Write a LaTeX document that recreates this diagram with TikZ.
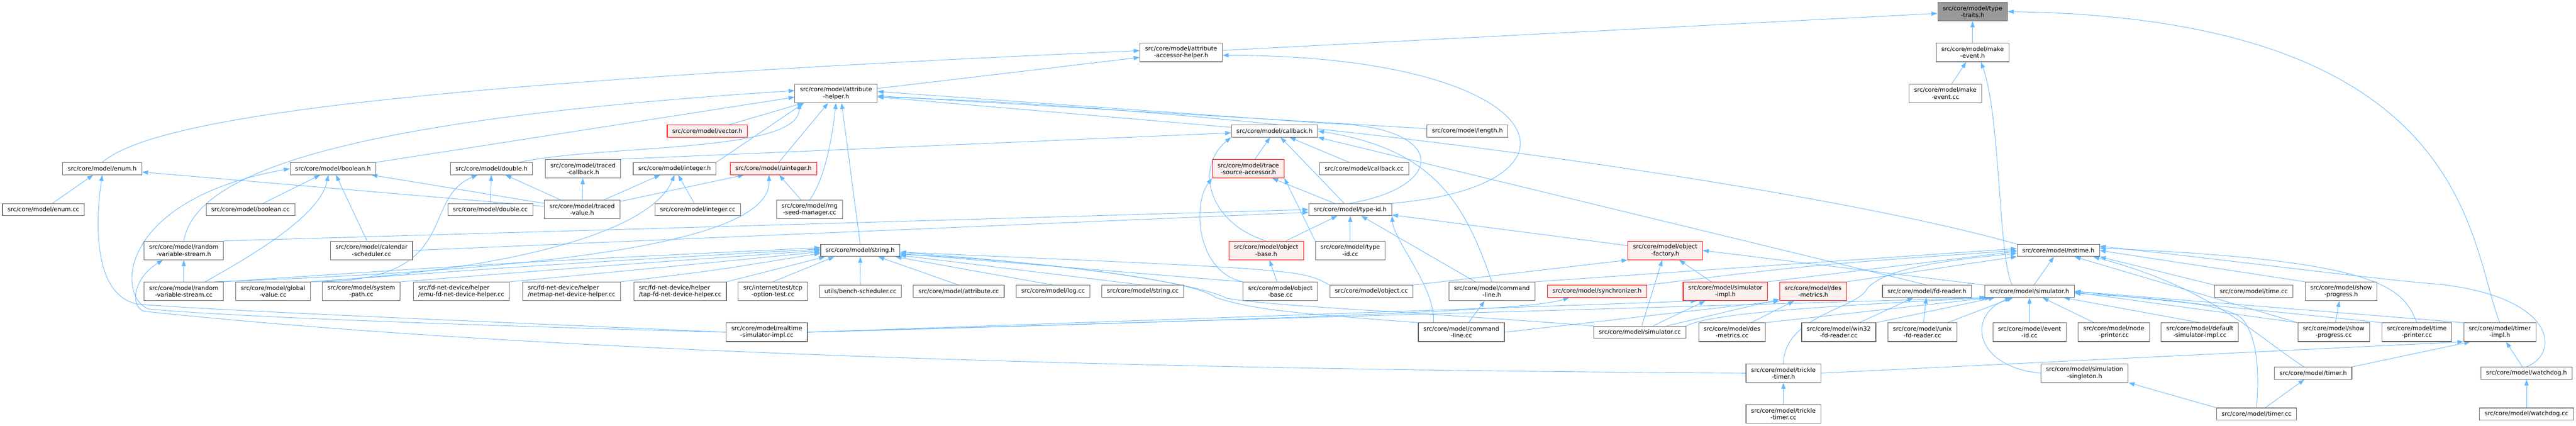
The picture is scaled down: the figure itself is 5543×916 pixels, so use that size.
\documentclass[tikz,border=0pt]{standalone}
\usepackage{fontspec}
\setmainfont{DejaVu Sans}
\usetikzlibrary{arrows.meta,backgrounds}
\definecolor{edgeblue}{HTML}{63B8FF}
\definecolor{boxgray}{HTML}{666666}
\definecolor{rootgray}{HTML}{999999}
\definecolor{truncfill}{HTML}{FFF0F0}
\definecolor{truncred}{HTML}{FF0000}

\begin{document}
\begin{tikzpicture}[x=1pt, y=-1pt,
    filebox/.style={draw=boxgray, fill=white, line width=1.2pt, inner xsep=11pt, inner ysep=1pt,
      minimum height=26pt, align=center, font=\fontsize{12.8pt}{14.7pt}\selectfont},
    twoline/.style={minimum height=40pt},
    trunc/.style={draw=truncred, fill=truncfill},
    rootbox/.style={fill=rootgray},
    incl/.style={draw=edgeblue, line width=1pt, -{Triangle[length=13pt,width=9pt]}}]%
    \useasboundingbox (0,0) rectangle (5543,916);

    \node[filebox,twoline,rootbox] (typetraits) at (4244.5,25) {src/core/model/type\\-traits.h};
    \node[filebox,twoline] (aah) at (2541.5,113) {src/core/model/attribute\\-accessor-helper.h};
    \node[filebox,twoline] (makeeventh) at (4244.5,113) {src/core/model/make\\-event.h};
    \node[filebox,twoline] (attrh) at (1799,201) {src/core/model/attribute\\-helper.h};
    \node[filebox,twoline] (makeeventcc) at (4186,201) {src/core/model/make\\-event.cc};
    \node[filebox,trunc] (vectorh) at (1522,282) {src/core/model/vector.h};
    \node[filebox] (callbackh) at (2742.5,282) {src/core/model/callback.h};
    \node[filebox] (lengthh) at (3157.5,282) {src/core/model/length.h};
    \node[filebox] (enumh) at (220,363) {src/core/model/enum.h};
    \node[filebox] (booleanh) at (716.5,363) {src/core/model/boolean.h};
    \node[filebox] (doubleh) at (1057.5,363) {src/core/model/double.h};
    \node[filebox,twoline] (tcbh) at (1254.5,363) {src/core/model/traced\\-callback.h};
    \node[filebox] (integerh) at (1451.5,363) {src/core/model/integer.h};
    \node[filebox,trunc] (uintegerh) at (1664.5,363) {src/core/model/uinteger.h};
    \node[filebox,twoline,trunc] (tsah) at (2686,363) {src/core/model/trace\\-source-accessor.h};
    \node[filebox] (callbackcc) at (2935.5,363) {src/core/model/callback.cc};
    \node[filebox] (enumcc) at (93.5,451) {src/core/model/enum.cc};
    \node[filebox] (booleancc) at (539,451) {src/core/model/boolean.cc};
    \node[filebox] (doublecc) at (1055,451) {src/core/model/double.cc};
    \node[filebox,twoline] (tvh) at (1252.5,451) {src/core/model/traced\\-value.h};
    \node[filebox] (integercc) at (1501.5,451) {src/core/model/integer.cc};
    \node[filebox,twoline] (rngcc) at (1742,451) {src/core/model/rng\\-seed-manager.cc};
    \node[filebox] (typeidh) at (2905.5,451) {src/core/model/type-id.h};
    \node[filebox,twoline] (rvsh) at (395.5,539) {src/core/model/random\\-variable-stream.h};
    \node[filebox,twoline] (calendarcc) at (799.5,539) {src/core/model/calendar\\-scheduler.cc};
    \node[filebox] (stringh) at (1851,539) {src/core/model/string.h};
    \node[filebox,twoline,trunc] (objbaseh) at (2724.5,539) {src/core/model/object\\-base.h};
    \node[filebox,twoline] (typeidcc) at (2905.5,539) {src/core/model/type\\-id.cc};
    \node[filebox,twoline,trunc] (objfacth) at (3583,539) {src/core/model/object\\-factory.h};
    \node[filebox] (nstimeh) at (4429,539) {src/core/model/nstime.h};
    \node[filebox,twoline] (rvscc) at (395.5,627) {src/core/model/random\\-variable-stream.cc};
    \node[filebox,twoline] (gvcc) at (587.5,627) {src/core/model/global\\-value.cc};
    \node[filebox,twoline] (syspathcc) at (777.5,627) {src/core/model/system\\-path.cc};
    \node[filebox,twoline,align=left] (emucc) at (992.5,627) {src/fd-net-device/helper\\/emu-fd-net-device-helper.cc};
    \node[filebox,twoline,align=left] (netmapcc) at (1230,627) {src/fd-net-device/helper\\/netmap-net-device-helper.cc};
    \node[filebox,twoline,align=left] (tapcc) at (1463.5,627) {src/fd-net-device/helper\\/tap-fd-net-device-helper.cc};
    \node[filebox,twoline] (tcpcc) at (1663,627) {src/internet/test/tcp\\-option-test.cc};
    \node[filebox] (benchcc) at (1851.5,627) {utils/bench-scheduler.cc};
    \node[filebox] (attributecc) at (2063,627) {src/core/model/attribute.cc};
    \node[filebox] (logcc) at (2266,627) {src/core/model/log.cc};
    \node[filebox] (stringcc) at (2459,627) {src/core/model/string.cc};
    \node[filebox,twoline] (objbasecc) at (2755,627) {src/core/model/object\\-base.cc};
    \node[filebox] (objectcc) at (2951,627) {src/core/model/object.cc};
    \node[filebox,twoline] (cmdlineh) at (3210,627) {src/core/model/command\\-line.h};
    \node[filebox,trunc] (synch) at (3436.5,627) {src/core/model/synchronizer.h};
    \node[filebox,twoline,trunc] (simimplh) at (3712.5,627) {src/core/model/simulator\\-impl.h};
    \node[filebox,twoline,trunc] (desmh) at (3901.5,627) {src/core/model/des\\-metrics.h};
    \node[filebox] (fdreaderh) at (4146.5,627) {src/core/model/fd-reader.h};
    \node[filebox] (simulatorh) at (4367,627) {src/core/model/simulator.h};
    \node[filebox] (timecc) at (4849.5,627) {src/core/model/time.cc};
    \node[filebox,twoline] (sph) at (5037.5,627) {src/core/model/show\\-progress.h};
    \node[filebox,twoline] (rtsimcc) at (1650,715) {src/core/model/realtime\\-simulator-impl.cc};
    \node[filebox,twoline] (cmdlinecc) at (3144.5,715) {src/core/model/command\\-line.cc};
    \node[filebox] (simcc) at (3528.5,715) {src/core/model/simulator.cc};
    \node[filebox,twoline] (desmcc) at (3727,715) {src/core/model/des\\-metrics.cc};
    \node[filebox,twoline] (win32cc) at (3956.5,715) {src/core/model/win32\\-fd-reader.cc};
    \node[filebox,twoline] (unixcc) at (4136.5,715) {src/core/model/unix\\-fd-reader.cc};
    \node[filebox,twoline] (eventidcc) at (4367,715) {src/core/model/event\\-id.cc};
    \node[filebox,twoline] (nodeprintercc) at (4548.5,715) {src/core/model/node\\-printer.cc};
    \node[filebox,twoline] (defsimcc) at (4733.5,715) {src/core/model/default\\-simulator-impl.cc};
    \node[filebox,twoline] (spcc) at (5021.5,715) {src/core/model/show\\-progress.cc};
    \node[filebox,twoline] (tpcc) at (5200.5,715) {src/core/model/time\\-printer.cc};
    \node[filebox,twoline] (timerimplh) at (5379,715) {src/core/model/timer\\-impl.h};
    \node[filebox,twoline] (trickleh) at (3837.5,803) {src/core/model/trickle\\-timer.h};
    \node[filebox,twoline] (simsingh) at (4485.5,803) {src/core/model/simulation\\-singleton.h};
    \node[filebox] (timerh) at (4977.5,803) {src/core/model/timer.h};
    \node[filebox] (watchdogh) at (5436.5,803) {src/core/model/watchdog.h};
    \node[filebox,twoline] (tricklecc) at (3837.5,891) {src/core/model/trickle\\-timer.cc};
    \node[filebox] (timercc) at (4855.5,891) {src/core/model/timer.cc};
    \node[filebox] (watchdogcc) at (5436.5,891) {src/core/model/watchdog.cc};

    \begin{pgfonlayer}{background}
    \fill[white] (0,0) rectangle (5543,916);
    \draw[incl] (aah) -- (typetraits);
    \draw[incl] (makeeventh) -- (typetraits);
    \draw[incl] (timerimplh.north) .. controls (5310,520) and (5320,40) .. (typetraits.east);
    \draw[incl] (attrh) -- (aah);
    \draw[incl] (enumh.north) .. controls (330,255) and (850,180) .. ([yshift=4pt]aah.west);
    \draw[incl] (typeidh.north east) .. controls (3450,400) and (3350,120) .. ([yshift=-6pt]aah.east);
    \draw[incl] (makeeventcc) -- (makeeventh);
    \draw[incl] ([xshift=-37pt]simulatorh.north) .. controls (4300,560) and (4305,250) .. ([xshift=18pt]makeeventh.south);
    \draw[incl] (booleanh.north east) -- ([yshift=-8pt]attrh.west);
    \draw[incl] (rvsh.north) .. controls (420,380) and (700,260) .. ([yshift=6pt]attrh.west);
    \draw[incl] (vectorh) -- (attrh);
    \draw[incl] ([xshift=-30pt]doubleh.north east) .. controls (1300,310) and (1720,330) .. ([xshift=10pt]attrh.south west);
    \draw[incl] (integerh.north east) -- ([xshift=20pt]attrh.south west);
    \draw[incl] (uintegerh) -- (attrh);
    \draw[incl] (rngcc.north) .. controls (1775,385) and (1790,300) .. (attrh.south);
    \draw[incl] (stringh.north) -- ([xshift=12pt]attrh.south);
    \draw[incl] (callbackh) -- (attrh);
    \draw[incl] (lengthh) -- (attrh);
    \draw[incl] (typeidh.north) .. controls (3120,400) and (3110,270) .. (2860,266) -- ([yshift=4pt]attrh.east);
    \draw[incl] (nstimeh.north west) .. controls (3900,400) and (2700,230) .. ([yshift=-8pt]attrh.east);
    \draw[incl] (enumcc) -- (enumh);
    \draw[incl] (tvh) -- (enumh);
    \draw[incl] (rtsimcc.west) .. controls (1000,690) and (500,670) .. (300,655) .. controls (200,640) and (205,480) .. (enumh.south);
    \draw[incl] (booleancc) -- (booleanh);
    \draw[incl] (calendarcc) -- (booleanh);
    \draw[incl] ([xshift=-40pt]rvscc.north east) .. controls (560,540) and (690,460) .. ([xshift=-10pt]booleanh.south);
    \draw[incl] (tvh) -- (booleanh);
    \draw[incl] (rtsimcc.west) .. controls (1000,700) and (500,682) .. (320,665) .. controls (250,640) and (250,430) .. (booleanh.west);
    \draw[incl] (doublecc) -- (doubleh);
    \draw[incl] (tvh) -- (doubleh);
    \draw[incl] (gvcc.north east) .. controls (1000,610) and (900,430) .. ([xshift=-30pt]doubleh.south);
    \draw[incl] (tvh) -- (tcbh);
    \draw[incl] (integercc) -- (integerh);
    \draw[incl] (tvh) -- (integerh);
    \draw[incl] (gvcc.north east) .. controls (1100,580) and (1400,500) .. (integerh.south);
    \draw[incl] (tvh) -- (uintegerh);
    \draw[incl] (rngcc) -- (uintegerh);
    \draw[incl] ([xshift=-20pt]rvscc.north east) .. controls (1200,580) and (1660,520) .. ([xshift=-10pt]uintegerh.south);
    \draw[incl] (rvscc.north east) .. controls (1100,565) .. ([yshift=6pt]stringh.west);
    \draw[incl] (gvcc.north east) .. controls (1200,568) .. ([yshift=3pt]stringh.west);
    \draw[incl] (syspathcc.north east) .. controls (1300,572) .. (stringh.west);
    \draw[incl] (emucc.north east) .. controls (1420,576) .. ([yshift=-3pt]stringh.west);
    \draw[incl] (netmapcc.north east) .. controls (1540,582) .. ([yshift=-6pt]stringh.west);
    \draw[incl] (tapcc.north east) -- ([xshift=10pt]stringh.south west);
    \draw[incl] (tcpcc.north) -- ([xshift=30pt]stringh.south west);
    \draw[incl] (benchcc) -- (stringh);
    \draw[incl] (attributecc.north) -- (stringh);
    \draw[incl] (logcc.north) -- (stringh);
    \draw[incl] (stringcc.north) -- (stringh);
    \draw[incl] (objbasecc.north west) -- (stringh);
    \draw[incl] (objectcc.north west) .. controls (2800,580) .. (stringh);
    \draw[incl] (cmdlinecc.north west) .. controls (2800,675) and (2700,668) .. (2615,640) .. controls (2570,605) and (2300,570) .. ([yshift=-4pt]stringh.east);
    \draw[incl] (simcc.north west) .. controls (3000,668) and (2750,660) .. (2640,642) .. controls (2585,612) and (2300,565) .. ([yshift=-8pt]stringh.east);
    \draw[incl] (tsah) -- (callbackh);
    \draw[incl] (typeidh) -- (callbackh);
    \draw[incl] (callbackcc) -- (callbackh);
    \draw[incl] (tcbh.north east) -- (callbackh);
    \draw[incl] (cmdlineh.north) .. controls (3150,430) and (3080,320) .. (callbackh.east);
    \draw[incl] (fdreaderh.north) -- (callbackh.south east);
    \draw[incl] (objbaseh.north) .. controls (2600,480) and (2570,360) .. (callbackh.south west);
    \draw[incl] (objbasecc.north west) .. controls (2575,585) and (2565,440) .. (tsah.south west);
    \draw[incl] (typeidh) -- (tsah);
    \draw[incl] (typeidcc.north west) -- (tsah.south east);
    \draw[incl] (objbaseh) -- (typeidh);
    \draw[incl] (typeidcc) -- (typeidh);
    \draw[incl] ([xshift=-60pt]cmdlinecc.north) .. controls (3090,620) and (3000,520) .. (typeidh.south east);
    \draw[incl] (cmdlineh) -- (typeidh);
    \draw[incl] (objfacth) -- (typeidh);
    \draw[incl] (rvsh.north east) -- (typeidh.west);
    \draw[incl] (calendarcc.east) -- ([yshift=-6pt]typeidh.west);
    \draw[incl] (objbasecc) -- (objbaseh);
    \draw[incl] (objectcc.north east) -- (objfacth.south west);
    \draw[incl] (simimplh) -- (objfacth);
    \draw[incl] (simcc) -- (objfacth);
    \draw[incl] (simulatorh.north west) -- (objfacth.east);
    \draw[incl] (cmdlineh.north east) -- ([yshift=4pt]nstimeh.west);
    \draw[incl] (synch.north east) .. controls (3900,570) .. (nstimeh.west);
    \draw[incl] (simimplh.north east) -- ([yshift=-2pt]nstimeh.west);
    \draw[incl] (desmh.north east) -- (nstimeh);
    \draw[incl] (simulatorh) -- (nstimeh);
    \draw[incl] (trickleh.north) .. controls (3840,680) and (3990,665) .. (4015,625) .. controls (4050,570) and (4250,555) .. ([yshift=-6pt]nstimeh.west);
    \draw[incl] (timecc.north west) -- (nstimeh.south east);
    \draw[incl] (sph.north west) -- (nstimeh.east);
    \draw[incl] (spcc.north west) -- ([xshift=35pt]nstimeh.south);
    \draw[incl] (tpcc.north) .. controls (5170,620) and (5130,560) .. ([yshift=5pt]nstimeh.east);
    \draw[incl] ([xshift=-20pt]timerh.north) .. controls (4850,720) and (4760,620) .. ([xshift=75pt]nstimeh.south);
    \draw[incl] (watchdogh.north) .. controls (5510,760) and (5500,640) .. (5250,612) .. controls (5100,600) and (4800,560) .. ([yshift=9pt]nstimeh.east);
    \draw[incl] (eventidcc) -- (simulatorh);
    \draw[incl] (nodeprintercc) -- (simulatorh);
    \draw[incl] (defsimcc.north) -- (simulatorh);
    \draw[incl] (unixcc) -- (simulatorh);
    \draw[incl] (win32cc.north east) -- ([xshift=22pt]simulatorh.south west);
    \draw[incl] (desmcc.north east) -- ([xshift=14pt]simulatorh.south west);
    \draw[incl] (simcc.north east) .. controls (3680,675) and (3900,660) .. ([xshift=8pt]simulatorh.south west);
    \draw[incl] (rtsimcc.east) -- ([xshift=2pt]simulatorh.south west);
    \draw[incl] (simsingh.west) .. controls (4250,790) and (4230,680) .. ([xshift=-40pt]simulatorh.south);
    \draw[incl] (timercc.north) .. controls (4865,760) and (4845,715) .. (4828,690) .. controls (4800,650) and (4600,640) .. ([yshift=-4pt]simulatorh.east);
    \draw[incl] (timerimplh.north west) -- (simulatorh.east);
    \draw[incl] (tpcc.north west) -- (simulatorh.east);
    \draw[incl] (spcc.north west) -- ([yshift=-2pt]simulatorh.east);
    \draw[incl] (win32cc) -- (fdreaderh);
    \draw[incl] (unixcc) -- (fdreaderh);
    \draw[incl] (desmcc) -- (desmh);
    \draw[incl] (simcc) -- (desmh);
    \draw[incl] (cmdlinecc.east) -- (desmh.south west);
    \draw[incl] (simcc) -- (simimplh);
    \draw[incl] (rtsimcc.east) -- ([xshift=30pt]simimplh.south west);
    \draw[incl] (rtsimcc.east) .. controls (3000,680) and (3300,665) .. ([xshift=-60pt]synch.south);
    \draw[incl] (cmdlinecc) -- (cmdlineh);
    \draw[incl] (rvscc) -- (rvsh);
    \draw[incl] (trickleh.west) .. controls (1500,790) and (600,700) .. (310,670) .. controls (280,660) and (285,600) .. ([xshift=-45pt]rvsh.south);
    \draw[incl] (trickleh.east) -- (timerimplh.south west);
    \draw[incl] (timerh.north east) -- ([xshift=15pt]timerimplh.south west);
    \draw[incl] (watchdogh) -- (timerimplh);
    \draw[incl] (tricklecc) -- (trickleh);
    \draw[incl] (timercc) -- (timerh);
    \draw[incl] (timercc.north west) -- (simsingh.south east);
    \draw[incl] (watchdogcc) -- (watchdogh);
    \draw[incl] (spcc) -- (sph);
    \end{pgfonlayer}
\end{tikzpicture}
\end{document}
